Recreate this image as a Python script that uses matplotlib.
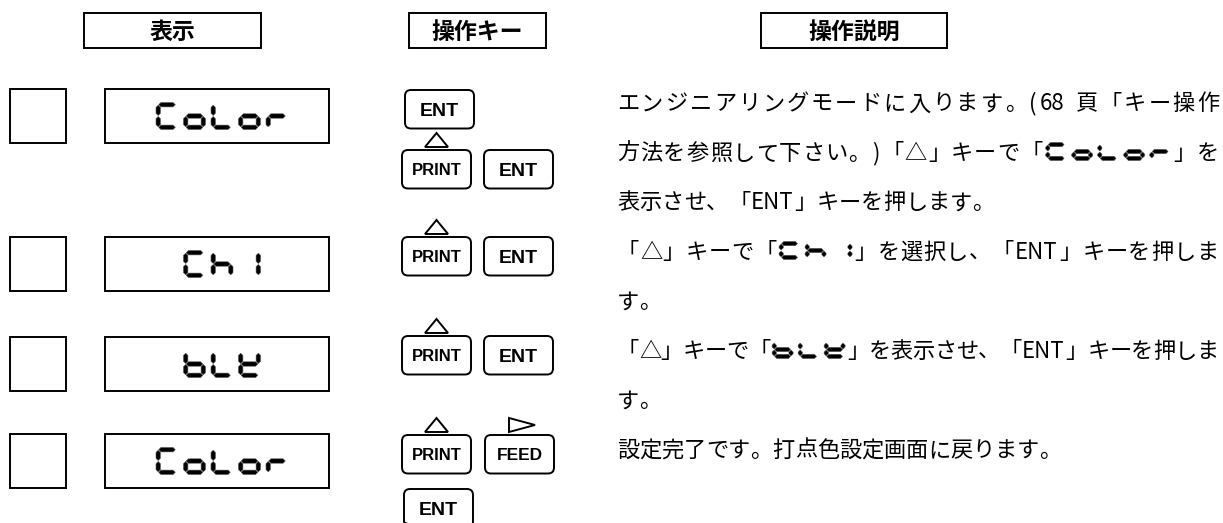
import re
import unicodedata
import matplotlib.pyplot as plt
from matplotlib.patches import Rectangle, FancyBboxPatch, Polygon
from matplotlib.font_manager import FontProperties

plt.rcParams['font.family'] = ['Noto Sans CJK JP', 'DejaVu Sans']

# ---- contents ----
headers = ['表示', '操作キー', '操作説明']
displays = ['Color', 'Ch1', 'bLE', 'Color']
keys = [['ENT', 'PRINT', 'ENT'],
        ['PRINT', 'ENT'],
        ['PRINT', 'ENT'],
        ['PRINT', 'FEED', 'ENT']]
key_marks = {'PRINT': 'up', 'FEED': 'right'}
desc_lines = ['エンジニアリングモードに入ります。(68 頁「キー操作',
              '方法を参照して下さい。)「△」キーで「{Color}」を',
              '表示させ、「ENT」キーを押します。',
              '「△」キーで「{Ch1}」を選択し、「ENT」キーを押しま',
              'す。',
              '「△」キーで「{bLE}」を表示させ、「ENT」キーを押しま',
              'す。',
              '設定完了です。打点色設定画面に戻ります。']
desc_justify = [True, True, False, True, False, True, False, False]
# lit segments of the 7-seg LCD characters
seg_map = {'C': 'adef', 'o': 'cdeg', 'l': 'def', 'L': 'def', 'r': 'eg',
           'h': 'cefg', '1': 'bc', 'b': 'cdefg', 'E': 'bdefg'}

# ---- layout (pixels, y down) ----
header_box = [(84, 261), (409, 546), (761, 947)]
header_top, header_bot = 13, 48
row_top = [89, 237, 337, 434]
row_h = 54
lamp_x = (10, 66)
disp_x = (105, 329)
key_w, key_h = 69, 38.5
key_font = {'ENT': 14, 'PRINT': 12, 'FEED': 12.5}
key_xy = [[(405, 90), (402, 150), (484, 150)],
          [(402, 237), (484, 237)],
          [(402, 336), (484, 336)],
          [(402, 435), (485, 435), (404, 489)]]
text_x0, text_x1 = 617, 1219
line_y0, line_dy = 102, 49.5
in_w, in_h, in_pitch, in_pad, in_t = 21, 18, 26, 2, 4.2
LW = 1.4


def seg_poly(s, x, y, w, h, t, gap=0.5):
    xl, xr = x + t / 2, x + w - t / 2
    yt, ym, yb = y + t / 2, y + h / 2, y + h - t / 2

    def hz(yc):
        return [(xl + gap, yc), (xl + gap + t / 2, yc - t / 2), (xr - gap - t / 2, yc - t / 2),
                (xr - gap, yc), (xr - gap - t / 2, yc + t / 2), (xl + gap + t / 2, yc + t / 2)]

    def vt(xc, y1, y2):
        return [(xc, y1 + gap), (xc + t / 2, y1 + gap + t / 2), (xc + t / 2, y2 - gap - t / 2),
                (xc, y2 - gap), (xc - t / 2, y2 - gap - t / 2), (xc - t / 2, y1 + gap + t / 2)]

    return {'a': hz(yt), 'g': hz(ym), 'd': hz(yb),
            'f': vt(xl, yt, ym), 'e': vt(xl, ym, yb),
            'b': vt(xr, yt, ym), 'c': vt(xr, ym, yb)}[s]


def draw_word(ax, word, x, y, w, h, pitch, t):
    for k, ch in enumerate(word):
        for s in seg_map.get(ch, ''):
            ax.add_patch(Polygon(seg_poly(s, x + k * pitch, y, w, h, t),
                                 closed=True, fc='black', ec='#555555', lw=0.4))


fig = plt.figure(figsize=(12.23, 5.23), dpi=100)
ax = fig.add_axes([0, 0, 1, 1])
ax.set_xlim(0, 1223)
ax.set_ylim(523, 0)
ax.axis('off')

# headers
for label, (x0, x1) in zip(headers, header_box):
    ax.add_patch(Rectangle((x0, header_top), x1 - x0, header_bot - header_top,
                           fill=False, lw=LW, ec='black'))
    ax.text((x0 + x1) / 2, (header_top + header_bot) / 2 + 8.6, label,
            ha='center', va='baseline', fontsize=16.5, fontweight='bold')

# lamp + LCD display per step
for i, word in enumerate(displays):
    y = row_top[i]
    ax.add_patch(Rectangle((lamp_x[0], y), lamp_x[1] - lamp_x[0], row_h, fill=False, lw=LW))
    ax.add_patch(Rectangle((disp_x[0], y), disp_x[1] - disp_x[0], row_h, fill=False, lw=LW))
    w, h, pitch = 22, 27, 27.5
    block = (len(word) - 1) * pitch + w
    draw_word(ax, word, 222 - block / 2, y + row_h / 2 - h / 2, w, h, pitch, 4.4)

# keys
for labels, pos in zip(keys, key_xy):
    for lab, (x, y) in zip(labels, pos):
        ax.add_patch(FancyBboxPatch((x, y), key_w, key_h,
                                    boxstyle='round,pad=0,rounding_size=6',
                                    fill=False, lw=LW, ec='black'))
        fs = key_font[lab]
        ax.text(x + key_w / 2, y + key_h / 2 + 0.358 * fs * 100 / 72 - 0.5, lab,
                ha='center', va='baseline',
                fontsize=fs, fontweight='bold', family='Liberation Sans')
        mark = key_marks.get(lab)
        if mark == 'up':
            cx = x + key_w / 2
            ax.add_patch(Polygon([(cx - 11.5, y - 3), (cx + 11.5, y - 3), (cx, y - 17)],
                                 closed=True, fill=False, lw=LW, joinstyle='miter'))
        elif mark == 'right':
            ax.add_patch(Polygon([(x + 24, y - 17), (x + 24, y - 3), (x + 50, y - 10)],
                                 closed=True, fill=False, lw=LW, joinstyle='miter'))

# description text, laid out char by char so that lines can be justified
renderer = fig.canvas.get_renderer()
fp = FontProperties(family=['Noto Sans CJK JP', 'DejaVu Sans'], size=16)
em = 16 * 100 / 72


def tokens(s):
    out = []
    for part in re.split(r'(\{\w+\}|[A-Za-z0-9]+)', s):
        if not part:
            continue
        if part.startswith('{'):
            out.append(('seg', part[1:-1]))
        elif part.isascii() and part.isalnum():
            out.append(('txt', part))
        else:
            out.extend(('txt', c) for c in part)
    return out


def tok_width(kind, s):
    if kind == 'seg':
        return (len(s) - 1) * in_pitch + in_w + 2 * in_pad
    if s == ' ':
        return 0.25 * em
    if unicodedata.east_asian_width(s[0]) in 'WFA':
        return em
    w, h, d = renderer.get_text_width_height_descent(s, fp, ismath=False)
    return w + 1.5


for i, (line, just) in enumerate(zip(desc_lines, desc_justify)):
    yc = line_y0 + i * line_dy
    toks = tokens(line)
    widths = [tok_width(*t) for t in toks]
    gap = 0
    if just and len(toks) > 1:
        gap = (text_x1 - text_x0 - sum(widths)) / (len(toks) - 1)
    x = text_x0
    for (kind, s), w in zip(toks, widths):
        if kind == 'seg':
            draw_word(ax, s, x + in_pad, yc - in_h / 2, in_w, in_h, in_pitch, in_t)
        else:
            ax.text(x, yc + 0.38 * em, s, ha='left', va='baseline', fontproperties=fp)
        x += w + gap

fig.savefig('out.png', dpi=100, facecolor='white')
